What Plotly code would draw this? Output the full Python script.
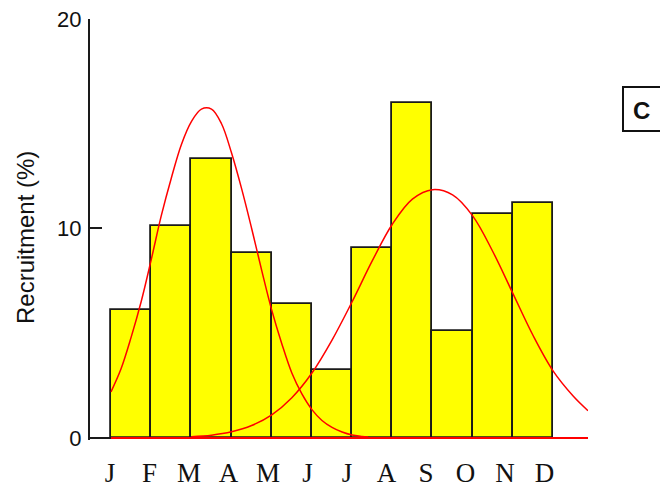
import plotly.graph_objects as go

# Monthly recruitment (%) and the two fitted cohort curves
months = ["J", "F", "M", "A", "M", "J", "J", "A", "S", "O", "N", "D"]
recruitment = [6.12, 10.14, 13.32, 8.82, 6.4, 3.25, 9.08, 16.0, 5.11, 10.68, 11.23]

curve1_x = [0, 0.25, 0.5, 0.75, 1.0, 1.25, 1.5, 1.75, 2.0, 2.25, 2.5, 2.75, 3.0,
            3.25, 3.5, 3.75, 4.0, 4.25, 4.5, 4.75, 5.0, 5.25, 5.5, 5.75, 6.0, 6.25, 6.4]
curve1_y = [2.2, 3.3, 4.8, 6.5, 8.5, 10.6, 12.4, 14.0, 15.1, 15.7, 15.7, 15.0, 13.6,
            11.9, 10.0, 8.0, 6.1, 4.5, 3.1, 2.1, 1.35, 0.83, 0.5, 0.28, 0.14, 0.07, 0.04]

curve2_x = [2.0, 2.5, 3.0, 3.5, 4.0, 4.5, 5.0, 5.5, 6.0, 6.5, 7.0, 7.5, 8.0,
            8.5, 9.0, 9.5, 10.0, 10.5, 11.0, 11.5, 11.87]
curve2_y = [0.06, 0.13, 0.29, 0.59, 1.1, 1.92, 3.1, 4.67, 6.5, 8.45, 10.2, 11.4, 11.85,
            11.6, 10.6, 8.9, 6.9, 4.9, 3.2, 2.0, 1.3]

# Canvas geometry (pixels)
W, H = 660, 492
L, R, T, B = 90, 72, 19, 52
px_per_month = 40.18
x_min = -21 / px_per_month
x_max = curve2_x[-1]

fig = go.Figure()

fig.add_trace(go.Bar(
    x=[i + 0.5 for i in range(len(recruitment))],
    y=recruitment,
    width=1.0,
    marker=dict(color="#FFFF00", line=dict(color="#1a1a1a", width=1.8)),
    hoverinfo="skip",
))

red = dict(color="#FF0000", width=1.5)
fig.add_trace(go.Scatter(x=[curve1_x[0], curve2_x[-1]], y=[0, 0], mode="lines",
                         line=dict(color="#FF0000", width=2), hoverinfo="skip"))
fig.add_trace(go.Scatter(x=curve1_x, y=curve1_y, mode="lines", line=dict(shape="spline", **red),
                         hoverinfo="skip"))
fig.add_trace(go.Scatter(x=curve2_x, y=curve2_y, mode="lines", line=dict(shape="spline", **red),
                         hoverinfo="skip"))

# month labels sit on a slightly tighter pitch than the bars
label_pitch = 39.5 / px_per_month
label_offset = -1 / px_per_month
tick_pos = [label_offset + i * label_pitch for i in range(len(months))]

fig.update_layout(
    width=W, height=H,
    margin=dict(l=L, r=R, t=T, b=B, pad=0, autoexpand=False),
    paper_bgcolor="white", plot_bgcolor="white",
    showlegend=False,
    bargap=0,
    xaxis=dict(
        range=[x_min, x_max], showgrid=False, zeroline=False, showline=False,
        automargin=False,
        tickmode="array", tickvals=tick_pos, ticktext=months, ticks="",
        tickfont=dict(family="Liberation Serif", size=27, color="#111111"),
        ticklabelstandoff=14,
    ),
    yaxis=dict(
        range=[-0.1, 20], showgrid=False, automargin=False,
        zeroline=True, zerolinecolor="#1a1a1a", zerolinewidth=2,
        showline=True, linecolor="#1a1a1a", linewidth=2,
        tickmode="array", tickvals=[0, 10, 20], ticktext=["0", "10", "20"],
        ticks="inside", ticklen=12, tickwidth=2, tickcolor="#1a1a1a",
        tickfont=dict(family="Liberation Sans", size=22, color="#111111"),
        ticklabelstandoff=2,
    ),
)

plot_w = W - L - R
plot_h = H - T - B

def px_x(p):
    return (p - L) / plot_w

def px_y(p):
    return (H - B - p) / plot_h

fig.add_annotation(
    text="Recruitment (%)", textangle=-90, showarrow=False,
    xref="paper", yref="paper", x=px_x(26), y=px_y(238),
    xanchor="center", yanchor="middle",
    font=dict(family="Liberation Sans", size=24, color="#111111"),
)

# panel letter in a box at the right edge
fig.add_shape(type="rect", xref="paper", yref="paper",
              x0=px_x(623), x1=px_x(680), y0=px_y(131), y1=px_y(87),
              line=dict(color="#111111", width=2), fillcolor="white")
fig.add_annotation(
    text="<b>C</b>", showarrow=False, xref="paper", yref="paper",
    x=px_x(641), y=px_y(110), xanchor="center", yanchor="middle",
    font=dict(family="Liberation Sans", size=24, color="#111111"),
)

fig.write_html("out.html")
